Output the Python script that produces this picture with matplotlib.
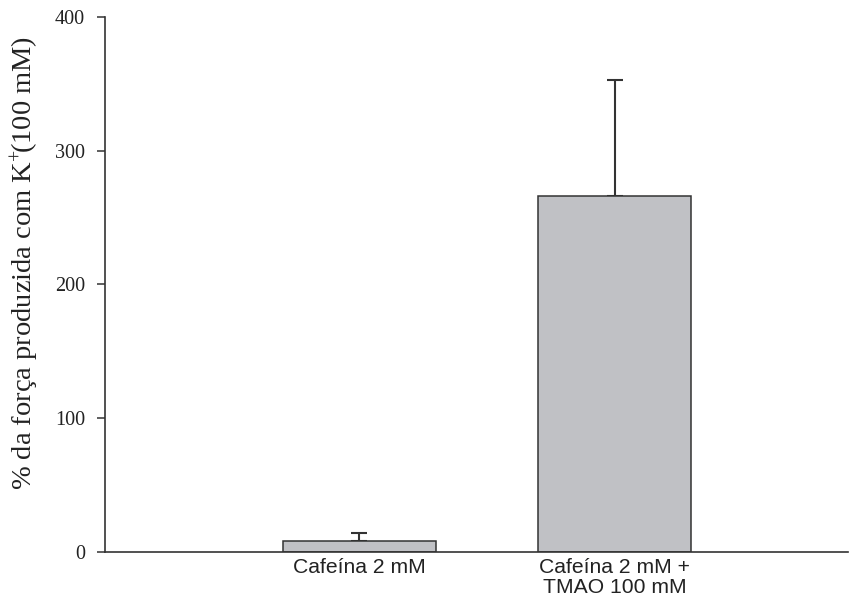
import matplotlib
matplotlib.use("Agg")
import matplotlib.pyplot as plt

plt.rcParams["mathtext.fontset"] = "custom"
plt.rcParams["mathtext.rm"] = "Liberation Serif"
plt.rcParams["mathtext.it"] = "Liberation Serif:italic"

categories = ["Cafeína 2 mM", "Cafeína 2 mM +\nTMAO 100 mM"]
values = [8.2, 266]
errors = [6, 87]
yticks = [0, 100, 200, 300, 400]

fig = plt.figure(figsize=(8.61, 5.98), dpi=100)
ax = fig.add_axes([105/861, 1-552/598, (848-105)/861, (552-16.7)/598])

x = list(range(len(categories)))
ax.bar(x, values, width=0.6, color="#c0c1c5", edgecolor="#333333", linewidth=1.1, zorder=2)
ax.errorbar(x, values, yerr=[[0]*len(errors), errors], fmt="none", ecolor="#333333",
            elinewidth=1.5, capsize=5.8, capthick=1.5, zorder=1)

ax.set_xlim(-0.9965, 1.913)
ax.set_ylim(0, 400)
ax.set_yticks(yticks)
ax.set_yticklabels([str(t) for t in yticks], fontfamily="Liberation Serif", fontsize=14.5, color="#222222")
ax.set_xticks(x)
ax.set_xticklabels(categories, fontfamily="Liberation Sans", fontsize=15.2, color="#222222", linespacing=1.12)
ax.tick_params(axis="x", length=0, pad=4)
ax.tick_params(axis="y", length=5.8, width=1.1, color="#333333", pad=8.5)

for s in ["top", "right"]:
    ax.spines[s].set_visible(False)
for s in ["left", "bottom"]:
    ax.spines[s].set_color("#333333")
    ax.spines[s].set_linewidth(1.2)

ax.set_ylabel("% da força produzida com K$^{+}\\!$(100 mM)", fontfamily="Liberation Serif",
              fontsize=20.5, color="#222222")
ax.yaxis.set_label_coords((42-105)/743, (552-263)/535.3)

fig.savefig("out.png", dpi=100)
